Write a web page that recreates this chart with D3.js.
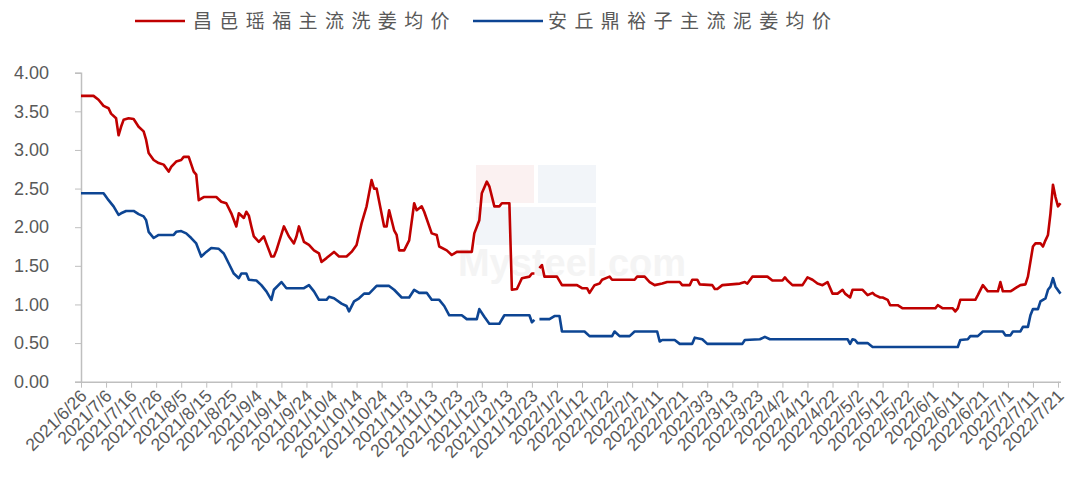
<!DOCTYPE html>
<html>
<head>
<meta charset="utf-8">
<script src="https://cdn.jsdelivr.net/npm/d3@7"></script>
<style>
  body { margin: 0; background: #fff; }
  svg { display: block; }
</style>
</head>
<body>
<svg width="1066" height="490"></svg>
<script>
// series names
const seriesNames = ["昌邑瑶福主流洗姜均价", "安丘鼎裕子主流泥姜均价"];

// red series: date / price where the line turns
const redDates = ["2021/6/26","2021/7/1","2021/7/3","2021/7/5","2021/7/7","2021/7/8","2021/7/10","2021/7/11","2021/7/12","2021/7/13","2021/7/15","2021/7/17","2021/7/19","2021/7/21","2021/7/22","2021/7/23","2021/7/25","2021/7/27","2021/7/29","2021/7/31","2021/8/1","2021/8/3","2021/8/5","2021/8/6","2021/8/8","2021/8/10","2021/8/11","2021/8/12","2021/8/14","2021/8/19","2021/8/21","2021/8/23","2021/8/25","2021/8/27","2021/8/28","2021/8/30","2021/8/31","2021/9/1","2021/9/2","2021/9/3","2021/9/5","2021/9/7","2021/9/8","2021/9/10","2021/9/11","2021/9/12","2021/9/15","2021/9/17","2021/9/19","2021/9/20","2021/9/21","2021/9/23","2021/9/25","2021/9/27","2021/9/29","2021/9/30","2021/10/2","2021/10/5","2021/10/7","2021/10/10","2021/10/12","2021/10/14","2021/10/16","2021/10/18","2021/10/20","2021/10/21","2021/10/22","2021/10/25","2021/10/26","2021/10/27","2021/10/29","2021/10/30","2021/10/31","2021/11/2","2021/11/4","2021/11/6","2021/11/7","2021/11/9","2021/11/10","2021/11/13","2021/11/15","2021/11/16","2021/11/19","2021/11/21","2021/11/23","2021/11/29","2021/11/30","2021/12/2","2021/12/3","2021/12/5","2021/12/6","2021/12/8","2021/12/10","2021/12/11","2021/12/14","2021/12/15","2021/12/17","2021/12/19","2021/12/22","2021/12/23","2021/12/24","2021/12/25","2021/12/26","2021/12/27","2021/12/28","2022/1/2","2022/1/4","2022/1/10","2022/1/12","2022/1/14","2022/1/15","2022/1/17","2022/1/19","2022/1/20","2022/1/23","2022/1/24","2022/2/2","2022/2/3","2022/2/6","2022/2/8","2022/2/10","2022/2/13","2022/2/15","2022/2/20","2022/2/21","2022/2/24","2022/2/25","2022/2/27","2022/2/28","2022/3/5","2022/3/6","2022/3/7","2022/3/9","2022/3/16","2022/3/18","2022/3/19","2022/3/21","2022/3/27","2022/3/29","2022/4/2","2022/4/3","2022/4/4","2022/4/6","2022/4/10","2022/4/12","2022/4/14","2022/4/16","2022/4/18","2022/4/20","2022/4/22","2022/4/24","2022/4/26","2022/4/27","2022/4/29","2022/4/30","2022/5/4","2022/5/6","2022/5/8","2022/5/9","2022/5/11","2022/5/12","2022/5/14","2022/5/15","2022/5/18","2022/5/20","2022/6/2","2022/6/3","2022/6/5","2022/6/9","2022/6/10","2022/6/11","2022/6/12","2022/6/18","2022/6/19","2022/6/21","2022/6/23","2022/6/27","2022/6/28","2022/6/29","2022/7/2","2022/7/3","2022/7/4","2022/7/6","2022/7/8","2022/7/9","2022/7/11","2022/7/12","2022/7/14","2022/7/15","2022/7/16","2022/7/17","2022/7/18","2022/7/19","2022/7/20","2022/7/21","2022/7/22"];
const redValues = [3.70,3.70,3.65,3.57,3.54,3.47,3.41,3.19,3.30,3.39,3.41,3.40,3.30,3.24,3.13,2.96,2.87,2.83,2.81,2.72,2.78,2.85,2.87,2.91,2.91,2.72,2.68,2.35,2.39,2.39,2.33,2.31,2.18,2.01,2.18,2.12,2.20,2.15,2.01,1.88,1.81,1.88,1.79,1.62,1.62,1.70,2.01,1.88,1.79,1.88,2.01,1.81,1.77,1.70,1.66,1.55,1.60,1.68,1.62,1.62,1.68,1.77,2.05,2.27,2.61,2.50,2.50,2.01,2.01,2.22,1.96,1.90,1.70,1.70,1.83,2.31,2.22,2.27,2.20,1.92,1.90,1.75,1.70,1.64,1.68,1.68,1.92,2.09,2.44,2.59,2.53,2.27,2.27,2.31,2.31,1.19,1.20,1.34,1.36,1.40,1.40,null,1.47,1.51,1.36,1.36,1.25,1.25,1.21,1.21,1.15,1.25,1.27,1.32,1.36,1.32,1.32,1.36,1.36,1.29,1.25,1.27,1.29,1.29,1.25,1.25,1.32,1.32,1.26,1.25,1.20,1.20,1.25,1.27,1.29,1.27,1.36,1.36,1.31,1.31,1.35,1.31,1.25,1.25,1.35,1.32,1.27,1.25,1.29,1.14,1.14,1.19,1.14,1.09,1.19,1.19,1.12,1.15,1.12,1.09,1.09,1.06,0.99,0.99,0.95,0.95,0.99,0.95,0.95,0.91,0.95,1.06,1.06,1.12,1.25,1.17,1.17,1.29,1.17,1.17,1.19,1.21,1.25,1.26,1.36,1.75,1.79,1.79,1.75,1.83,1.90,2.18,2.55,2.39,2.27,2.31];

// blue series
const blueDates = ["2021/6/26","2021/7/5","2021/7/7","2021/7/9","2021/7/11","2021/7/12","2021/7/14","2021/7/17","2021/7/19","2021/7/21","2021/7/22","2021/7/23","2021/7/25","2021/7/27","2021/8/2","2021/8/3","2021/8/5","2021/8/7","2021/8/9","2021/8/11","2021/8/13","2021/8/15","2021/8/17","2021/8/20","2021/8/22","2021/8/24","2021/8/26","2021/8/28","2021/8/29","2021/8/31","2021/9/1","2021/9/4","2021/9/6","2021/9/8","2021/9/10","2021/9/11","2021/9/14","2021/9/16","2021/9/23","2021/9/25","2021/9/27","2021/9/29","2021/10/2","2021/10/3","2021/10/5","2021/10/8","2021/10/10","2021/10/11","2021/10/13","2021/10/15","2021/10/17","2021/10/19","2021/10/22","2021/10/27","2021/10/29","2021/11/1","2021/11/4","2021/11/6","2021/11/8","2021/11/11","2021/11/13","2021/11/16","2021/11/18","2021/11/20","2021/11/25","2021/11/27","2021/12/1","2021/12/2","2021/12/4","2021/12/6","2021/12/10","2021/12/12","2021/12/22","2021/12/23","2021/12/24","2021/12/25","2021/12/26","2021/12/30","2022/1/1","2022/1/3","2022/1/4","2022/1/13","2022/1/15","2022/1/24","2022/1/25","2022/1/27","2022/1/31","2022/2/2","2022/2/11","2022/2/12","2022/2/13","2022/2/18","2022/2/20","2022/2/25","2022/2/26","2022/3/1","2022/3/3","2022/3/17","2022/3/18","2022/3/24","2022/3/26","2022/3/28","2022/4/28","2022/4/29","2022/4/30","2022/5/1","2022/5/2","2022/5/6","2022/5/8","2022/6/11","2022/6/12","2022/6/15","2022/6/16","2022/6/19","2022/6/21","2022/6/29","2022/6/30","2022/7/2","2022/7/3","2022/7/6","2022/7/7","2022/7/9","2022/7/10","2022/7/11","2022/7/13","2022/7/14","2022/7/16","2022/7/17","2022/7/18","2022/7/19","2022/7/20","2022/7/22"];
const blueValues = [2.44,2.44,2.35,2.27,2.16,2.18,2.21,2.21,2.17,2.14,2.09,1.94,1.86,1.90,1.90,1.94,1.95,1.92,1.86,1.79,1.62,1.68,1.73,1.72,1.66,1.53,1.40,1.34,1.40,1.40,1.32,1.31,1.25,1.17,1.06,1.19,1.29,1.21,1.21,1.25,1.17,1.06,1.06,1.10,1.08,1.01,0.98,0.91,1.04,1.08,1.14,1.14,1.24,1.24,1.19,1.09,1.09,1.19,1.15,1.15,1.06,1.06,0.98,0.86,0.86,0.81,0.81,0.94,0.84,0.75,0.75,0.86,0.86,0.77,0.80,null,0.81,0.81,0.85,0.85,0.65,0.65,0.59,0.59,0.65,0.59,0.59,0.65,0.65,0.52,0.54,0.54,0.49,0.49,0.57,0.55,0.49,0.49,0.54,0.55,0.58,0.55,0.55,0.49,0.55,0.54,0.50,0.50,0.45,0.45,0.54,0.55,0.59,0.59,0.65,0.65,0.60,0.60,0.65,0.65,0.71,0.71,0.86,0.94,0.94,1.04,1.08,1.19,1.23,1.34,1.23,1.14];

// axis settings
const yTicks = [0, 0.5, 1, 1.5, 2, 2.5, 3, 3.5, 4];
const firstDay = "2021/6/26";
const lastDay = "2022/7/22";
const tickDays = 10;

const colors = ["#c00000", "#0d4593"];
const parse = d3.timeParse("%Y/%m/%d");
const fmt = d3.timeFormat("%Y/%-m/%-d");

function drawChart() {
  const svg = d3.select("svg");
  const left = 81, right = 1060.5, top = 72.7, bottom = 381.7;

  const x = d3.scaleTime()
    .domain([parse(firstDay), parse(lastDay)])
    .range([left, right]);
  const y = d3.scaleLinear().domain([0, 4]).range([bottom, top]);

  // faint watermark
  const wm = svg.append("g").attr("opacity", 0.05);
  wm.append("rect").attr("x", 476).attr("y", 165).attr("width", 58).attr("height", 38).attr("fill", "#c00000");
  wm.append("rect").attr("x", 538).attr("y", 165).attr("width", 58).attr("height", 38).attr("fill", "#1f4e99");
  wm.append("rect").attr("x", 476).attr("y", 207).attr("width", 120).attr("height", 38).attr("fill", "#1f4e99");
  svg.append("text")
    .attr("x", 572).attr("y", 276)
    .attr("text-anchor", "middle")
    .attr("font-family", "Arial, 'Liberation Sans', sans-serif")
    .attr("font-weight", "bold")
    .attr("font-size", 38)
    .attr("fill", "#f4f4f4")
    .text("Mysteel.com");

  // y axis
  const yAxis = svg.append("g")
    .attr("transform", `translate(${left},0)`)
    .call(d3.axisLeft(y).tickValues(yTicks).tickFormat(d3.format(".2f")).tickSize(6).tickPadding(26));
  yAxis.select(".domain").attr("stroke", "#bfbfbf").attr("stroke-width", 1.5);
  yAxis.selectAll(".tick line").attr("stroke", "#bfbfbf");
  yAxis.selectAll("text")
    .attr("fill", "#595959")
    .attr("font-family", "'Liberation Sans', Arial, sans-serif")
    .attr("font-size", 18);

  // x axis with a tick every 10 days
  const xTickValues = d3.timeDay.range(parse(firstDay), parse(lastDay), tickDays);
  const xAxis = svg.append("g")
    .attr("transform", `translate(0,${bottom})`)
    .call(d3.axisBottom(x).tickValues(xTickValues).tickFormat(fmt).tickSize(6).tickSizeOuter(0));
  xAxis.select(".domain").attr("stroke", "#bfbfbf").attr("stroke-width", 1.5);
  xAxis.selectAll(".tick line").attr("stroke", "#bfbfbf");
  xAxis.selectAll("text")
    .attr("fill", "#595959")
    .attr("font-family", "'Liberation Sans', Arial, sans-serif")
    .attr("font-size", 17.5)
    .attr("text-anchor", "end")
    .attr("dy", 0)
    .attr("transform", "translate(0,9) rotate(-45)");

  // lines
  const series = [
    { dates: redDates, values: redValues },
    { dates: blueDates, values: blueValues },
  ];
  const line = d3.line()
    .defined((d) => d.v !== null)
    .x((d) => x(d.t))
    .y((d) => y(d.v));

  series.forEach((s, i) => {
    const pts = s.dates.map((d, j) => ({ t: parse(d), v: s.values[j] }));
    svg.append("path")
      .datum(pts)
      .attr("fill", "none")
      .attr("stroke", colors[i])
      .attr("stroke-width", 2.6)
      .attr("stroke-linejoin", "round")
      .attr("d", line);
  });

  // legend
  const legendPos = [
    { x1: 135, x2: 185, tx: 193 },
    { x1: 473, x2: 543, tx: 548 },
  ];
  seriesNames.forEach((name, i) => {
    const p = legendPos[i];
    svg.append("line")
      .attr("x1", p.x1).attr("x2", p.x2)
      .attr("y1", 21).attr("y2", 21)
      .attr("stroke", colors[i])
      .attr("stroke-width", 2.6);
    svg.append("text")
      .attr("x", p.tx).attr("y", 28)
      .attr("font-family", "'Noto Sans CJK SC', sans-serif")
      .attr("font-size", 19)
      .attr("letter-spacing", 7.4)
      .attr("fill", "#595959")
      .text(name);
  });
}

drawChart();
</script>
</body>
</html>
